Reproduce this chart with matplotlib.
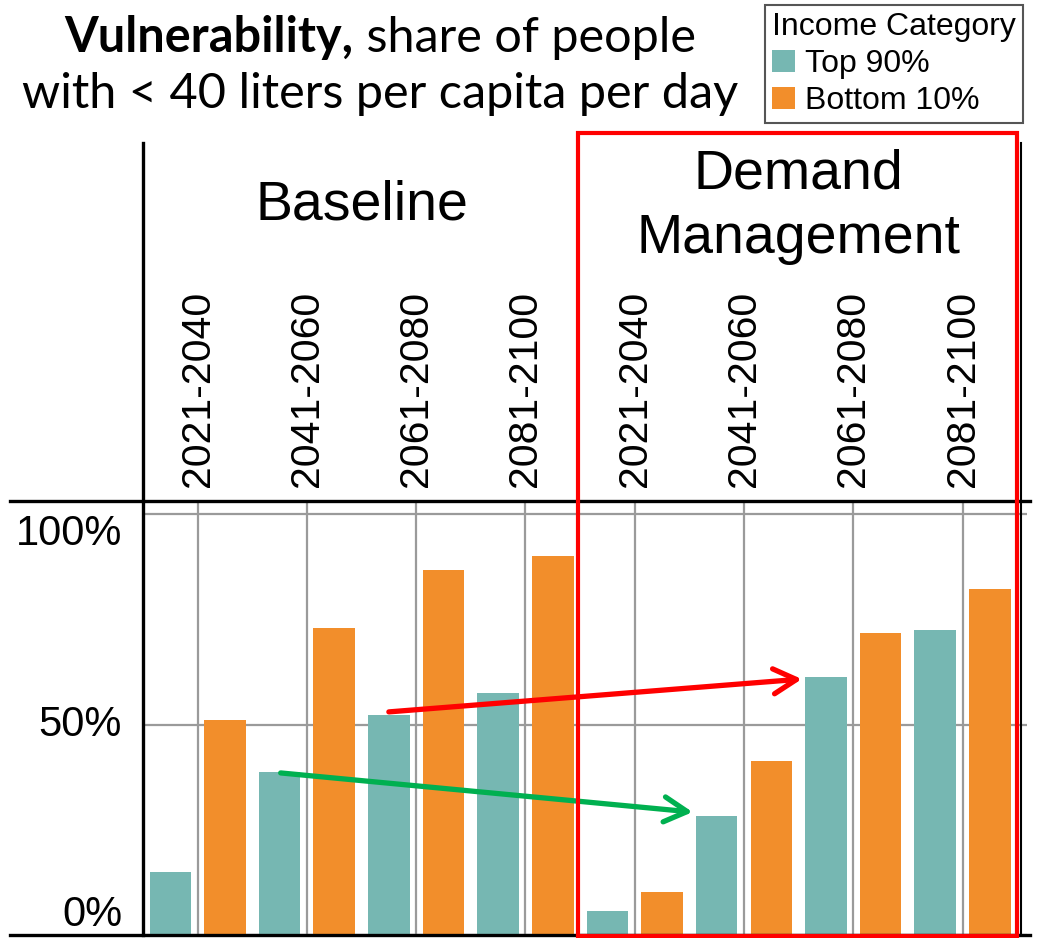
import matplotlib
matplotlib.use("Agg")
import matplotlib.pyplot as plt
import numpy as np
from matplotlib.patches import Patch, Rectangle
from matplotlib.lines import Line2D
import matplotlib.transforms as mtransforms

# ---------------- data ----------------
periods = ["2021-2040", "2041-2060", "2061-2080", "2081-2100"]
scenarios = ["Baseline", "Demand\nManagement"]
top90_baseline = [15.0, 38.8, 52.3, 57.6]
bottom10_baseline = [51.1, 73.0, 86.7, 90.1]
top90_demand = [5.7, 28.3, 61.3, 72.4]
bottom10_demand = [10.2, 41.3, 71.7, 82.2]
legend_labels = ["Top 90%", "Bottom 10%"]
legend_title = "Income Category"
ytick_values = [0, 50, 100]
ytick_labels = ["0%", "50%", "100%"]
# annotation arrows (data coords: category index, percent)
red_arrow_from = (1.75, 53.0)
red_arrow_to = (5.53, 60.8)
green_arrow_from = (0.76, 38.5)
green_arrow_to = (4.53, 29.2)

TEAL = "#76B7B2"
ORANGE = "#F28E2B"
ARIAL = "Liberation Sans"
TITLE_FONT = "Lato"

W, H = 1038, 938
def fx(px):
    return px / W
def fy(py):
    return 1 - py / H

fig = plt.figure(figsize=(W / 100, H / 100), dpi=100)
fig.patch.set_facecolor("white")

ax = fig.add_axes([fx(143), fy(935), fx(1027) - fx(143), fy(501) - fy(935)])

labels = periods + periods
top90 = top90_baseline + top90_demand
bottom10 = bottom10_baseline + bottom10_demand
x = np.arange(len(labels))

ax.bar(x - 0.25, top90, width=0.38, color=TEAL, zorder=3)
ax.bar(x + 0.25, bottom10, width=0.38, color=ORANGE, zorder=3)

ax.set_xlim(-0.5, 7.59)
ax.set_ylim(0, 103.1)
for s in ax.spines.values():
    s.set_visible(False)

ax.set_xticks(x)
ax.xaxis.tick_top()
ax.set_xticklabels(labels, rotation=90, fontsize=29.5, family=ARIAL)
ax.tick_params(axis="x", length=0, pad=10)
ax.set_yticks(ytick_values)
ax.set_yticklabels(ytick_labels, fontsize=30, family=ARIAL)
ax.tick_params(axis="y", length=0, pad=15)
for lab, v in zip(ax.get_yticklabels(), ytick_values):
    if v == 100:
        lab.set_va("top")
    elif v == 0:
        lab.set_va("bottom")
    else:
        lab.set_va("center")

ax.grid(True, color="#9a9a9a", lw=1.6, zorder=0)
ax.set_axisbelow(True)

# facet headers
trans = mtransforms.blended_transform_factory(ax.transData, fig.transFigure)
ax.text(1.5, fy(206), scenarios[0], transform=trans, ha="center", va="center",
        fontsize=40, family=ARIAL)
ax.text(5.5, fy(207), scenarios[1], transform=trans, ha="center", va="center",
        fontsize=40, family=ARIAL, linespacing=1.32)

# frame lines
lw_black = 2.4
fig.add_artist(Line2D([fx(10), fx(1030)], [fy(501), fy(501)], color="black", lw=lw_black))
fig.add_artist(Line2D([fx(10), fx(1030)], [fy(935), fy(935)], color="black", lw=lw_black))
fig.add_artist(Line2D([fx(143), fx(143)], [fy(143), fy(935)], color="black", lw=lw_black))
fig.add_artist(Line2D([fx(1021), fx(1021)], [fy(143), fy(935)], color="black", lw=1.5))

# arrows
ax.annotate("", xy=red_arrow_to, xytext=red_arrow_from,
            arrowprops=dict(arrowstyle="->,head_length=0.55,head_width=0.3", color="#FF0000",
                            lw=3.8, mutation_scale=30, shrinkA=0, shrinkB=0), zorder=5)
ax.annotate("", xy=green_arrow_to, xytext=green_arrow_from,
            arrowprops=dict(arrowstyle="->,head_length=0.55,head_width=0.3", color="#00B050",
                            lw=3.8, mutation_scale=30, shrinkA=0, shrinkB=0), zorder=5)

# red highlight box
fig.add_artist(Rectangle((fx(578), fy(936)), fx(1017) - fx(578), fy(133) - fy(936),
                         fill=False, edgecolor="#FF0000", lw=3.0, zorder=10))

# legend
handles = [Patch(facecolor=TEAL, label=legend_labels[0]),
           Patch(facecolor=ORANGE, label=legend_labels[1])]
leg = fig.legend(handles=handles, title=legend_title, loc="upper right",
                 bbox_to_anchor=(fx(1023), fy(5)),
                 prop={"family": ARIAL, "size": 23},
                 title_fontproperties={"family": ARIAL, "size": 23},
                 handlelength=0.72, handleheight=0.72, handletextpad=0.3,
                 borderpad=0.22, labelspacing=0.22, borderaxespad=0,
                 alignment="left", fancybox=False, framealpha=1,
                 edgecolor="#555555")
leg.get_frame().set_linewidth(1.5)

# title with bold first word
fig.canvas.draw()
renderer = fig.canvas.get_renderer()
probe = fig.text(0, 0, "with < 40 liters per capita per day", fontsize=30, family=TITLE_FONT)
pw = probe.get_window_extent(renderer).width
probe.remove()
tsize = 30 * 716 / pw

t1b = fig.text(0, fy(52), "Vulnerability,", fontsize=tsize, family=TITLE_FONT,
               fontweight="bold", va="baseline", ha="left")
t1r = fig.text(0, fy(52), " share of people", fontsize=tsize, family=TITLE_FONT,
               va="baseline", ha="left")
wb = t1b.get_window_extent(renderer).width
wr = t1r.get_window_extent(renderer).width
start = 380 - (wb + wr) / 2
t1b.set_x(fx(start))
t1r.set_x(fx(start + wb))
fig.text(fx(380), fy(108), "with < 40 liters per capita per day", fontsize=tsize,
         family=TITLE_FONT, va="baseline", ha="center")

fig.savefig("out.png", dpi=100)
